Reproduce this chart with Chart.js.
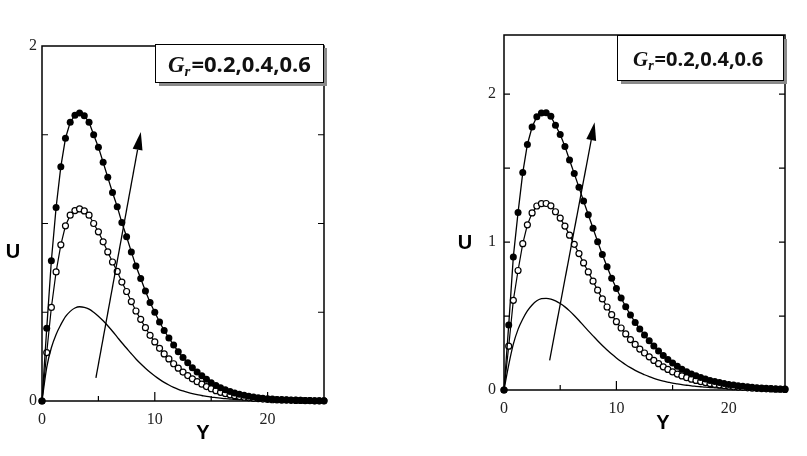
<!DOCTYPE html>
<html lang="en">
<head>
<meta charset="UTF-8">
<title>U versus Y for Gr = 0.2, 0.4, 0.6</title>
<style>
  body { margin: 0; background: #fff; width: 807px; height: 456px; position: relative; overflow: hidden; }
  canvas { position: absolute; top: 0; }
  #leftChart { left: 0; }
  #rightChart { left: 440px; }
</style>
<script src="https://cdn.jsdelivr.net/npm/chart.js"></script>
</head>
<body>
<canvas id="leftChart" width="400" height="456"></canvas>
<canvas id="rightChart" width="367" height="456"></canvas>
<script>
// Y grid of the computed points (same for every curve)
const yPos = [0, 0.42, 0.83, 1.25, 1.67, 2.08, 2.5, 2.92, 3.33, 3.75, 4.17, 4.58,
  5, 5.42, 5.83, 6.25, 6.67, 7.08, 7.5, 7.92, 8.33, 8.75, 9.17, 9.58,
  10, 10.42, 10.83, 11.25, 11.67, 12.08, 12.5, 12.92, 13.33, 13.75, 14.17, 14.58,
  15, 15.42, 15.83, 16.25, 16.67, 17.08, 17.5, 17.92, 18.33, 18.75, 19.17, 19.58,
  20, 20.42, 20.83, 21.25, 21.67, 22.08, 22.5, 22.92, 23.33, 23.75, 24.17, 24.58, 25];

// left panel: Gr = 0.6 (filled), 0.4 (open), 0.2 (plain line)
const leftFilled = [0, 0.41, 0.79, 1.09, 1.32, 1.48, 1.57, 1.61, 1.623, 1.607, 1.57, 1.50,
  1.43, 1.345, 1.26, 1.175, 1.095, 1.005, 0.925, 0.84, 0.76, 0.69, 0.62, 0.555,
  0.50, 0.445, 0.397, 0.355, 0.315, 0.278, 0.245, 0.215, 0.188, 0.164, 0.142, 0.122,
  0.103, 0.087, 0.074, 0.063, 0.053, 0.045, 0.038, 0.032, 0.027, 0.023, 0.019, 0.016,
  0.013, 0.011, 0.009, 0.008, 0.007, 0.006, 0.005, 0.004, 0.003, 0.003, 0.002, 0.002, 0.001];
const leftOpen = [0, 0.273, 0.527, 0.727, 0.88, 0.987, 1.047, 1.073, 1.082, 1.071, 1.047, 1.0,
  0.953, 0.897, 0.84, 0.783, 0.73, 0.67, 0.617, 0.56, 0.507, 0.46, 0.413, 0.37,
  0.333, 0.297, 0.265, 0.237, 0.21, 0.185, 0.163, 0.143, 0.125, 0.109, 0.095, 0.081,
  0.069, 0.058, 0.049, 0.042, 0.035, 0.03, 0.025, 0.021, 0.018, 0.015, 0.013, 0.011,
  0.009, 0.007, 0.006, 0.005, 0.005, 0.004, 0.003, 0.003, 0.002, 0.002, 0.001, 0.001, 0.001];
const leftSolid = [0, 0.19, 0.30, 0.375, 0.43, 0.475, 0.505, 0.524, 0.531, 0.528, 0.518, 0.5,
  0.478, 0.452, 0.424, 0.393, 0.36, 0.328, 0.297, 0.266, 0.237, 0.21, 0.185, 0.162,
  0.141, 0.122, 0.105, 0.09, 0.077, 0.066, 0.057, 0.049, 0.042, 0.036, 0.031, 0.026,
  0.022, 0.019, 0.016, 0.013, 0.011, 0.009, 0.008, 0.007, 0.006, 0.005, 0.004, 0.003,
  0.003, 0.002, 0.002, 0.002, 0.001, 0.001, 0.001, 0.001, 0.001, 0, 0, 0, 0];

// right panel
const rightFilled = [0, 0.44, 0.90, 1.20, 1.47, 1.66, 1.778, 1.848, 1.872, 1.874, 1.85, 1.79,
  1.727, 1.647, 1.555, 1.463, 1.37, 1.277, 1.185, 1.093, 1.003, 0.916, 0.833, 0.756,
  0.686, 0.622, 0.563, 0.507, 0.457, 0.412, 0.371, 0.333, 0.297, 0.264, 0.233, 0.206,
  0.182, 0.160, 0.141, 0.124, 0.109, 0.096, 0.084, 0.074, 0.065, 0.057, 0.050, 0.044,
  0.038, 0.033, 0.029, 0.025, 0.022, 0.019, 0.016, 0.014, 0.012, 0.010, 0.008, 0.007, 0.006];
const rightOpen = [0, 0.296, 0.606, 0.808, 0.989, 1.117, 1.197, 1.244, 1.26, 1.261, 1.245, 1.205,
  1.162, 1.108, 1.047, 0.985, 0.922, 0.859, 0.798, 0.736, 0.675, 0.616, 0.561, 0.509,
  0.462, 0.419, 0.379, 0.341, 0.308, 0.277, 0.25, 0.224, 0.2, 0.178, 0.157, 0.139,
  0.122, 0.108, 0.095, 0.083, 0.073, 0.065, 0.057, 0.05, 0.044, 0.038, 0.034, 0.03,
  0.026, 0.022, 0.02, 0.017, 0.015, 0.013, 0.011, 0.009, 0.008, 0.007, 0.005, 0.005, 0.004];
const rightSolid = [0, 0.17, 0.31, 0.41, 0.48, 0.535, 0.575, 0.603, 0.617, 0.62, 0.615, 0.603,
  0.585, 0.562, 0.535, 0.504, 0.47, 0.435, 0.4, 0.366, 0.333, 0.301, 0.271, 0.243,
  0.217, 0.193, 0.171, 0.151, 0.133, 0.117, 0.103, 0.09, 0.079, 0.069, 0.06, 0.053,
  0.046, 0.041, 0.036, 0.032, 0.028, 0.025, 0.022, 0.019, 0.017, 0.015, 0.013, 0.011,
  0.01, 0.009, 0.008, 0.007, 0.006, 0.005, 0.005, 0.004, 0.004, 0.003, 0.003, 0.003, 0.002];

// ticks and labels
const xTickMarks = [5, 10, 15, 20];
const xMajor = [10, 20];
const xTickLabels = [0, 10, 20];
const yTickMarks = [0.5, 1, 1.5, 2];
const leftYLabels = [0, 2];
const rightYLabels = [0, 1, 2];

// arrow (tail, head) in data units
const leftArrow = [[4.78, 0.13], [8.76, 1.516]];
const rightArrow = [[4.06, 0.2], [8.06, 1.81]];

const legendLabel = { main: 'G', sub: 'r', rest: '=0.2,0.4,0.6' };

function pts(arr) {
  return yPos.map((x, i) => ({ x: x, y: arr[i] }));
}

function decorPlugin(p) {
  return {
    id: 'decor',
    beforeDatasetsDraw(chart) {
      const ctx = chart.ctx, a = chart.chartArea;
      const xs = chart.scales.x, ys = chart.scales.y;
      ctx.save();
      ctx.strokeStyle = '#000';
      ctx.lineWidth = 1.5;
      ctx.strokeRect(a.left, a.top, a.right - a.left, a.bottom - a.top);
      ctx.lineWidth = 1.2;
      ctx.beginPath();
      xTickMarks.forEach(v => {
        const x = xs.getPixelForValue(v);
        const len = xMajor.includes(v) ? 9 : 5;
        ctx.moveTo(x, a.bottom);
        ctx.lineTo(x, a.bottom - len);
      });
      yTickMarks.forEach(v => {
        if (v >= p.yMax) return;
        const y = ys.getPixelForValue(v);
        ctx.moveTo(a.left, y);
        ctx.lineTo(a.left + 6, y);
        ctx.moveTo(a.right, y);
        ctx.lineTo(a.right - 6, y);
      });
      ctx.stroke();
      ctx.restore();
    },
    afterDatasetsDraw(chart) {
      const ctx = chart.ctx;
      const xs = chart.scales.x, ys = chart.scales.y;
      ctx.save();

      // arrow
      const x1 = xs.getPixelForValue(p.arrow[0][0]), y1 = ys.getPixelForValue(p.arrow[0][1]);
      const x2 = xs.getPixelForValue(p.arrow[1][0]), y2 = ys.getPixelForValue(p.arrow[1][1]);
      const ang = Math.atan2(y2 - y1, x2 - x1);
      const hl = 18, hw = 5;
      const bx = x2 - hl * Math.cos(ang), by = y2 - hl * Math.sin(ang);
      ctx.strokeStyle = '#000';
      ctx.lineWidth = 1.3;
      ctx.beginPath();
      ctx.moveTo(x1, y1);
      ctx.lineTo(bx, by);
      ctx.stroke();
      ctx.fillStyle = '#000';
      ctx.beginPath();
      ctx.moveTo(x2, y2);
      ctx.lineTo(bx + hw * Math.sin(ang), by - hw * Math.cos(ang));
      ctx.lineTo(bx - hw * Math.sin(ang), by + hw * Math.cos(ang));
      ctx.closePath();
      ctx.fill();

      // legend box with shadow
      const b = p.box;
      ctx.fillStyle = '#8a8a8a';
      ctx.fillRect(b.x + 4, b.y + 4, b.w, b.h);
      ctx.fillStyle = '#fff';
      ctx.fillRect(b.x, b.y, b.w, b.h);
      ctx.strokeStyle = '#000';
      ctx.lineWidth = 1;
      ctx.strokeRect(b.x + 0.5, b.y + 0.5, b.w, b.h);

      ctx.fillStyle = '#111';
      ctx.textBaseline = 'alphabetic';
      ctx.textAlign = 'left';
      let tx = p.textX;
      ctx.font = 'bold italic ' + (p.fs + 1) + 'px "Liberation Serif"';
      ctx.fillText(legendLabel.main, tx, p.textY);
      tx += ctx.measureText(legendLabel.main).width;
      ctx.font = 'bold italic ' + Math.round(p.fs * 0.7) + 'px "Liberation Serif"';
      ctx.fillText(legendLabel.sub, tx, p.textY + 4);
      tx += ctx.measureText(legendLabel.sub).width + 1;
      ctx.font = 'bold ' + p.fs + 'px "Open Sans"';
      ctx.fillText(legendLabel.rest, tx, p.textY);

      // axis titles
      ctx.font = 'bold 20px "Liberation Sans"';
      ctx.textAlign = 'center';
      ctx.textBaseline = 'middle';
      ctx.fillStyle = '#000';
      ctx.fillText('U', p.uPos[0], p.uPos[1]);
      ctx.fillText('Y', p.yPos[0], p.yPos[1]);
      ctx.restore();
    }
  };
}

function buildChart(id, p) {
  const tickFont = { family: '"Liberation Serif"', size: 16 };
  return new Chart(document.getElementById(id), {
    type: 'line',
    data: {
      datasets: [
        { data: pts(p.filled), borderColor: '#000', borderWidth: 1.3,
          pointRadius: 3.5, pointBackgroundColor: '#000', pointBorderColor: '#000', pointBorderWidth: 0, clip: false },
        { data: pts(p.open), borderColor: '#000', borderWidth: 1.2,
          pointRadius: 3, pointBackgroundColor: '#fff', pointBorderColor: '#000', pointBorderWidth: 1.2, clip: false },
        { data: pts(p.solid), borderColor: '#000', borderWidth: 1.3, pointRadius: 0,
          cubicInterpolationMode: 'monotone', clip: false }
      ]
    },
    options: {
      responsive: false,
      animation: false,
      events: [],
      layout: { padding: { top: p.top, right: p.right, left: 0, bottom: 0 } },
      plugins: { legend: { display: false }, tooltip: { enabled: false } },
      scales: {
        x: {
          type: 'linear', min: 0, max: 25,
          grid: { display: false, drawTicks: false },
          border: { display: false },
          ticks: {
            stepSize: 5, padding: p.xPad, color: '#222', font: tickFont,
            maxRotation: 0, autoSkip: false,
            callback: v => xTickLabels.includes(v) ? String(v) : ''
          },
          afterFit: s => { s.height = p.xH; }
        },
        y: {
          min: 0, max: p.yMax,
          grid: { display: false, drawTicks: false },
          border: { display: false },
          ticks: {
            stepSize: 0.5, padding: p.yPad, color: '#222', font: tickFont, autoSkip: false,
            callback: v => p.yLabels.includes(v) ? String(v) : ''
          },
          afterFit: s => { s.width = p.yW; }
        }
      }
    },
    plugins: [decorPlugin(p)]
  });
}

buildChart('leftChart', {
  filled: leftFilled, open: leftOpen, solid: leftSolid,
  yMax: 2, yLabels: leftYLabels, arrow: leftArrow,
  top: 46, right: 76, xH: 55, yW: 42, xPad: 9, yPad: 5,
  box: { x: 155, y: 44, w: 168, h: 38 }, textX: 168, textY: 72, fs: 22,
  uPos: [13, 252], yPos: [203, 433]
});

buildChart('rightChart', {
  filled: rightFilled, open: rightOpen, solid: rightSolid,
  yMax: 2.4, yLabels: rightYLabels, arrow: rightArrow,
  top: 35, right: 22, xH: 66, yW: 64, xPad: 9, yPad: 8,
  box: { x: 177, y: 35, w: 166, h: 45 }, textX: 193, textY: 66, fs: 20,
  uPos: [25, 243], yPos: [223, 423]
});
</script>
</body>
</html>
